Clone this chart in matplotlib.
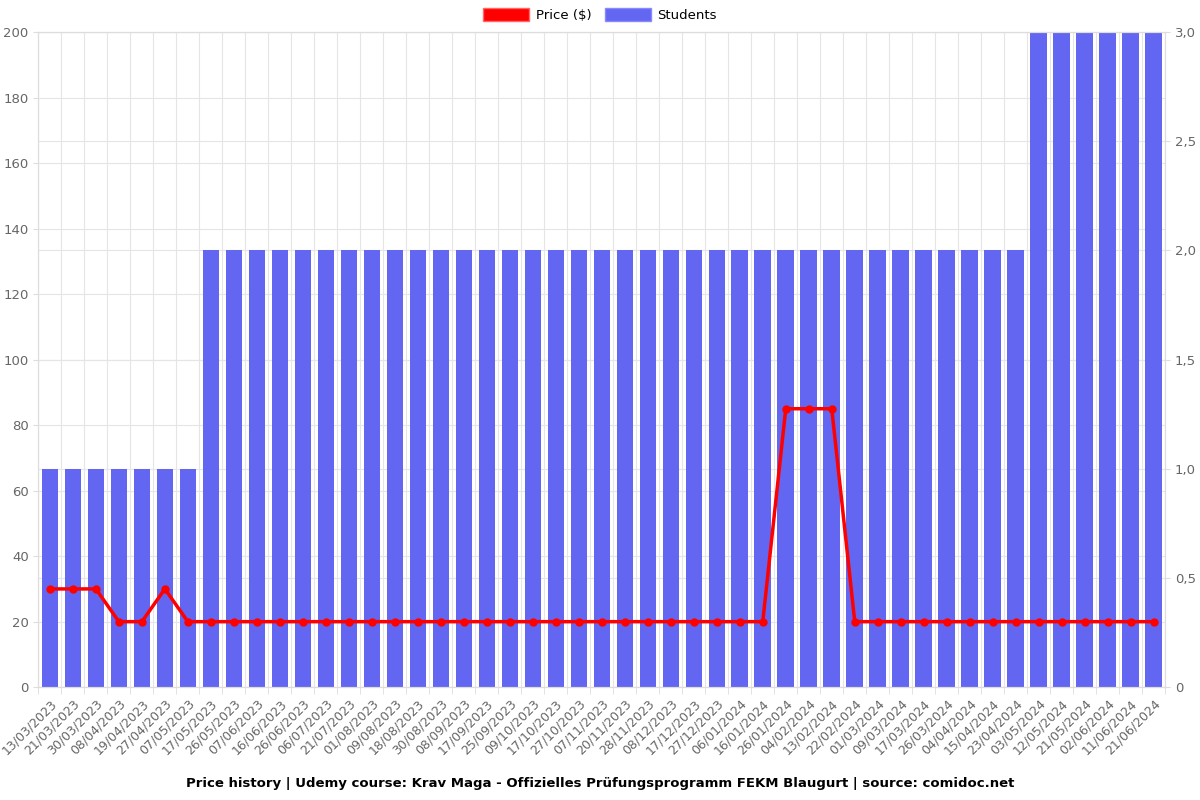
import matplotlib.pyplot as plt
import numpy as np
from matplotlib.patches import Patch

dates = ["13/03/2023", "21/03/2023", "30/03/2023", "08/04/2023", "19/04/2023", "27/04/2023",
         "07/05/2023", "17/05/2023", "26/05/2023", "07/06/2023", "16/06/2023", "26/06/2023",
         "06/07/2023", "21/07/2023", "01/08/2023", "09/08/2023", "18/08/2023", "30/08/2023",
         "08/09/2023", "17/09/2023", "25/09/2023", "09/10/2023", "17/10/2023", "27/10/2023",
         "07/11/2023", "20/11/2023", "28/11/2023", "08/12/2023", "17/12/2023", "27/12/2023",
         "06/01/2024", "16/01/2024", "26/01/2024", "04/02/2024", "13/02/2024", "22/02/2024",
         "01/03/2024", "09/03/2024", "17/03/2024", "26/03/2024", "04/04/2024", "15/04/2024",
         "23/04/2024", "03/05/2024", "12/05/2024", "21/05/2024", "02/06/2024", "11/06/2024",
         "21/06/2024"]
students = [1] * 7 + [2] * 36 + [3] * 6
prices = [30, 30, 30, 20, 20, 30, 20] + [20] * 25 + [85, 85, 85] + [20] * 14

x = np.arange(len(dates))

fig = plt.figure(figsize=(12, 8), dpi=100)
ax = fig.add_axes([0.032, 0.141, 0.939, 0.819])
ax2 = ax.twinx()

# bars on the right axis, drawn below the price line
ax2.bar(x, students, width=0.72, color="#6366F1", zorder=2)
ax2.set_ylim(0, 3)
ax2.set_yticks(np.arange(0, 3.01, 0.5))
ax2.set_yticklabels(["0", "0,5", "1,0", "1,5", "2,0", "2,5", "3,0"])

ax.set_zorder(ax2.get_zorder() + 1)
ax.patch.set_visible(False)
ax.plot(x, prices, color="#FF0000", lw=2.5, marker="o", ms=5, zorder=5)
ax.set_ylim(0, 200)
ax.set_yticks(range(0, 201, 20))
ax.set_xlim(-0.5, len(dates) - 0.5)
ax.set_xticks(x)
ax.set_xticklabels(dates, rotation=45, ha="right", va="top", rotation_mode="anchor", fontsize=9)
ax.set_xticks(np.arange(-0.5, len(dates), 1), minor=True)
ax.tick_params(axis="x", which="major", length=0, pad=7)
ax.tick_params(axis="x", which="minor", length=5, color="#DDDDDD")

# grid lives on the background axis so it sits behind the bars
for v in np.arange(-0.5, len(dates), 1):
    ax2.axvline(v, color="#E5E5E5", lw=0.8, zorder=0)
for v in range(0, 201, 20):
    ax2.axhline(v / 200 * 3, color="#E5E5E5", lw=0.8, zorder=0)
for v in np.arange(0, 3.01, 0.5):
    ax2.axhline(v, color="#E5E5E5", lw=0.8, zorder=0)

for a in (ax, ax2):
    for s in a.spines.values():
        s.set_color("#DDDDDD")
    a.tick_params(axis="y", labelsize=9.5, labelcolor="#666666", color="#DDDDDD")
ax.tick_params(axis="x", labelcolor="#666666")

handles = [Patch(facecolor="#FF0000", edgecolor="#FF6666"), Patch(facecolor="#6366F1", edgecolor="#8888FF")]
fig.legend(handles, ["Price ($)", "Students"], loc="upper center", bbox_to_anchor=(0.5, 1.005),
           ncol=2, frameon=False, fontsize=9.5, handlelength=3.5, handleheight=1.1,
           columnspacing=1.0, handletextpad=0.5)

fig.text(0.5, 0.016, "Price history | Udemy course: Krav Maga - Offizielles Prüfungsprogramm FEKM Blaugurt | source: comidoc.net",
         ha="center", fontsize=9.5, fontweight="bold")

fig.savefig("out.png", dpi=100)
